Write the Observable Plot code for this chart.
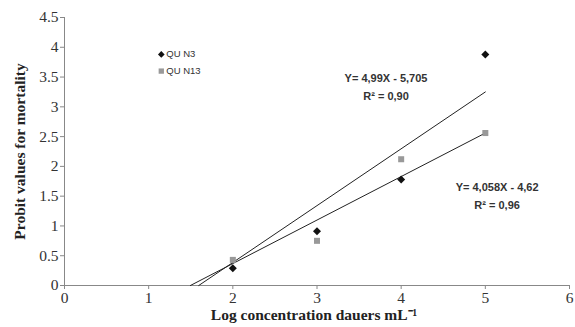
<!DOCTYPE html>
<html>
<head>
<meta charset="utf-8">
<script src="https://cdn.jsdelivr.net/npm/d3@7"></script>
<script src="https://cdn.jsdelivr.net/npm/@observablehq/plot@0.6"></script>
<style>
  html, body { margin: 0; padding: 0; background: #fff; }
  #chart svg g[aria-label$="tick label"] text,
  #chart svg g[aria-label$="tick label"] {
    font-family: 'Liberation Serif', 'Times New Roman', serif !important;
    font-size: 15.5px !important;
  }
</style>
</head>
<body>
<div id="chart"></div>
<script>
// ---- data ----
const concentrations = [2, 3, 4, 5];
const quN3 = [0.29, 0.91, 1.78, 3.88];
const quN13 = [0.43, 0.75, 2.12, 2.56];
// trend lines as drawn (start at the x axis, end at x = 5)
const trendN3X = [1.595, 5.0];
const trendN3Y = [0.0, 3.25];
const trendN13X = [1.496, 5.0];
const trendN13Y = [0.0, 2.56];
const xTicks = [0, 1, 2, 3, 4, 5, 6];
const yTicks = [0, 0.5, 1, 1.5, 2, 2.5, 3, 3.5, 4, 4.5];
const seriesNames = ["QU N3", "QU N13"];
const eqN3 = ["Y= 4,99X - 5,705", "R² = 0,90"];
const eqN13 = ["Y= 4,058X - 4,62", "R² = 0,96"];

// ---- layout (positions of annotations in data units) ----
const eqN3Pos = {x: 3.82, y: [3.48, 3.18]};
const eqN13Pos = {x: 5.14, y: [1.64, 1.35]};
const legendPos = {x: 1.15, y: [3.88, 3.6], dx: 5};

const n3 = concentrations.map((x, i) => ({x, y: quN3[i]}));
const n13 = concentrations.map((x, i) => ({x, y: quN13[i]}));
const t3 = trendN3X.map((x, i) => ({x, y: trendN3Y[i]}));
const t13 = trendN13X.map((x, i) => ({x, y: trendN13Y[i]}));
const legend = seriesNames.map((name, i) => ({name, x: legendPos.x, y: legendPos.y[i]}));
const eqs = [
  ...eqN3.map((t, i) => ({t, x: eqN3Pos.x, y: eqN3Pos.y[i]})),
  ...eqN13.map((t, i) => ({t, x: eqN13Pos.x, y: eqN13Pos.y[i]}))
];

const serif = "'Liberation Serif', 'Times New Roman', serif";
const sans = "'Liberation Sans', Arial, sans-serif";

const chart = Plot.plot({
  width: 575,
  height: 327,
  marginLeft: 64,
  marginRight: 6,
  marginTop: 17,
  marginBottom: 42,
  style: {fontFamily: serif, background: "#fff"},
  x: {domain: [0, 6], ticks: xTicks},
  y: {domain: [0, 4.5], ticks: yTicks},
  marks: [
    Plot.axisX({ticks: xTicks, tickSize: 4, tickPadding: 2, fontSize: 15.5, label: null, tickFormat: d => String(d), stroke: "#888", fill: "#333"}),
    Plot.axisY({ticks: yTicks, tickSize: 4, tickPadding: 2, fontSize: 15.5, label: null, tickFormat: d => String(d), stroke: "#888", fill: "#333"}),
    Plot.ruleY([0], {stroke: "#888"}),
    Plot.ruleX([0], {stroke: "#888"}),
    Plot.line(t3, {x: "x", y: "y", stroke: "#222", strokeWidth: 1}),
    Plot.line(t13, {x: "x", y: "y", stroke: "#222", strokeWidth: 1}),
    Plot.dot(n13, {x: "x", y: "y", symbol: "square", r: 3.4, fill: "#999", stroke: "none"}),
    Plot.dot(n3, {x: "x", y: "y", symbol: "diamond2", r: 3.6, fill: "#111", stroke: "none"}),
    Plot.dot(legend, {x: "x", y: "y", symbol: d => d.name === seriesNames[0] ? "diamond2" : "square", r: 3, fill: d => d.name === seriesNames[0] ? "#111" : "#999", stroke: "none"}),
    Plot.text(legend, {x: "x", y: "y", text: "name", dx: legendPos.dx, textAnchor: "start", fontFamily: sans, fontSize: 9.5, fill: "#333"}),
    Plot.text(eqs, {x: "x", y: "y", text: "t", fontFamily: sans, fontWeight: "bold", fontSize: 11, fill: "#333"}),
    Plot.text(["Probit values for mortality"], {frameAnchor: "left", textAnchor: "middle", rotate: -90, dx: -44, fontFamily: serif, fontWeight: "bold", fontSize: 15.5, fill: "#222"}),
    Plot.text(["Log concentration dauers mL⁻¹"], {frameAnchor: "bottom", dy: 34, dx: -3, fontFamily: serif, fontWeight: "bold", fontSize: 15.5, fill: "#222"})
  ]
});
document.getElementById("chart").appendChild(chart);
</script>
</body>
</html>
